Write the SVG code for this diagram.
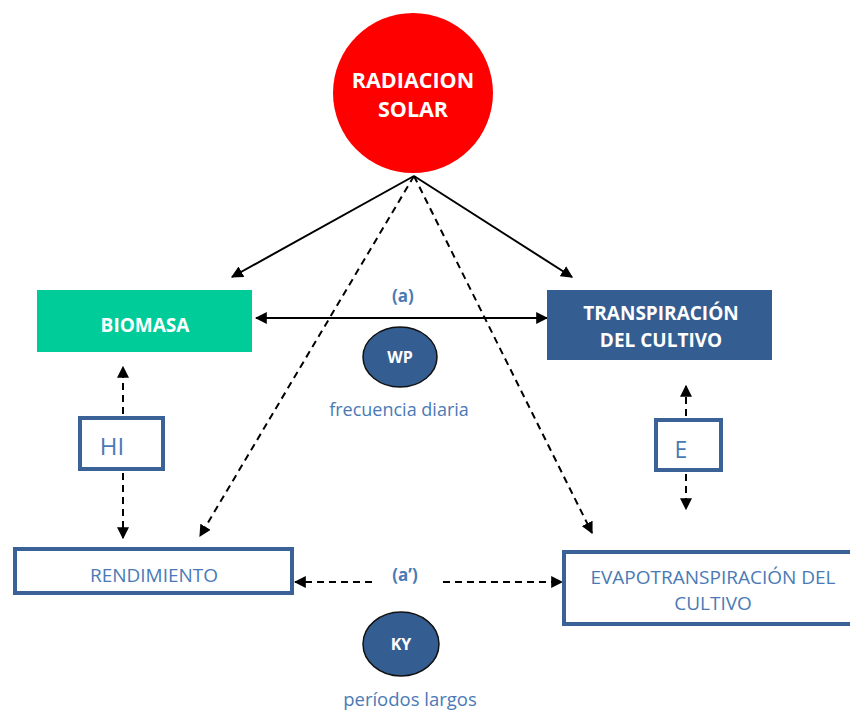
<svg xmlns="http://www.w3.org/2000/svg" width="850" height="710" viewBox="0 0 850 710">
  <defs>
    <marker id="tip" viewBox="0 0 10 10" refX="9" refY="5" markerWidth="6" markerHeight="6" orient="auto-start-reverse" markerUnits="strokeWidth">
      <path d="M0,0 L10,5 L0,10 Z" fill="#000"/>
    </marker>
    <style>
      .bold { font-family: "Open Sans", "Liberation Sans", sans-serif; font-weight: bold; fill: #fff; text-anchor: middle; }
      .lbl { font-family: "Open Sans", "Liberation Sans", sans-serif; fill: #4a7ab5; text-anchor: middle; }
      .outline { fill: #fff; stroke: #3a6297; stroke-width: 4; }
      .solid { stroke: #000; stroke-width: 2; fill: none; marker-end: url(#tip); }
      .dash { stroke: #000; stroke-width: 2; fill: none; stroke-dasharray: 7 5; marker-end: url(#tip); }
      .oval { fill: #345d91; stroke: #111; stroke-width: 1.5; }
    </style>
  </defs>
  <rect width="850" height="710" fill="#fff"/>

  <g id="connectors">
    <line class="solid" x1="414" y1="176" x2="232" y2="277"/>
    <line class="solid" x1="414" y1="176" x2="572" y2="277"/>
    <line class="dash" x1="414" y1="176" x2="200" y2="536"/>
    <line class="dash" x1="414" y1="176" x2="592" y2="533"/>
    <line class="solid" x1="256" y1="318" x2="547" y2="318" style="marker-start:url(#tip)"/>
    <line class="dash" x1="123" y1="414" x2="123" y2="367"/>
    <line class="dash" x1="123" y1="473" x2="123" y2="538"/>
    <line class="dash" x1="686" y1="416" x2="686" y2="386"/>
    <line class="dash" x1="686" y1="474" x2="686" y2="509"/>
    <line class="dash" x1="372" y1="582" x2="295" y2="582"/>
    <line class="dash" x1="443" y1="582" x2="562" y2="582"/>
  </g>

  <g id="radiacion">
    <circle cx="413" cy="93" r="80" fill="#ff0000"/>
    <text class="bold" x="413" y="88" font-size="21.5">RADIACION</text>
    <text class="bold" x="413" y="117" font-size="21.5">SOLAR</text>
  </g>

  <g id="biomasa">
    <rect x="37" y="290" width="215" height="62" fill="#00cc99"/>
    <text class="bold" x="145" y="332" font-size="19">BIOMASA</text>
  </g>

  <g id="transpiracion">
    <rect x="547" y="290" width="225" height="70" fill="#345d91"/>
    <text class="bold" x="661" y="320" font-size="19">TRANSPIRACIÓN</text>
    <text class="bold" x="661" y="347" font-size="19">DEL CULTIVO</text>
  </g>

  <g id="wp">
    <text class="lbl" x="403" y="302" font-size="17" font-weight="bold">(a)</text>
    <ellipse class="oval" cx="400" cy="357" rx="37" ry="30"/>
    <text class="bold" x="400" y="363" font-size="16">WP</text>
    <text class="lbl" x="399" y="416" font-size="18">frecuencia diaria</text>
  </g>

  <g id="hi">
    <rect class="outline" x="80" y="418" width="83" height="51"/>
    <text class="lbl" x="112" y="455" font-size="24">HI</text>
  </g>

  <g id="e">
    <rect class="outline" x="656" y="420" width="65" height="50"/>
    <text class="lbl" x="681" y="458" font-size="23">E</text>
  </g>

  <g id="rendimiento">
    <rect class="outline" x="15" y="549" width="277" height="44"/>
    <text class="lbl" x="154" y="582" font-size="19">RENDIMIENTO</text>
  </g>

  <g id="evapotranspiracion">
    <rect class="outline" x="564" y="552" width="290" height="72"/>
    <text class="lbl" x="713" y="584" font-size="19">EVAPOTRANSPIRACIÓN DEL</text>
    <text class="lbl" x="713" y="610" font-size="19">CULTIVO</text>
  </g>

  <g id="ky">
    <text class="lbl" x="405" y="581" font-size="17" font-weight="bold">(a’)</text>
    <ellipse class="oval" cx="401" cy="644" rx="38" ry="32"/>
    <text class="bold" x="401" y="650" font-size="16">KY</text>
    <text class="lbl" x="410" y="706" font-size="18.5">períodos largos</text>
  </g>
</svg>
